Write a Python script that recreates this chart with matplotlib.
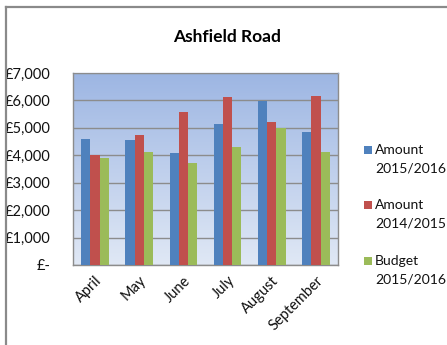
import numpy as np
import matplotlib
matplotlib.use("Agg")
import matplotlib.pyplot as plt
from matplotlib.patches import Rectangle
from matplotlib.lines import Line2D
from matplotlib.colors import LinearSegmentedColormap

plt.rcParams['font.family'] = ['Lato', 'DejaVu Sans']

months = ["April", "May", "June", "July", "August", "September"]
amount_1516 = [4580, 4550, 4080, 5140, 5990, 4860]
amount_1415 = [4000, 4740, 5590, 6110, 5220, 6150]
budget_1516 = [3890, 4130, 3730, 4290, 4980, 4130]
series_labels = ["Amount\n2015/2016", "Amount\n2014/2015", "Budget\n2015/2016"]
colors = ["#4F81BD", "#C0504D", "#9BBB59"]
yticks = [0, 1000, 2000, 3000, 4000, 5000, 6000, 7000]
ytick_labels = ["£-"] + [f"£{v:,}" for v in yticks[1:]]

W, H = 447, 345
fig = plt.figure(figsize=(W / 100, H / 100), dpi=100)
fig.patch.set_facecolor("white")

# outer chart border (left and top edges)
border = dict(transform=fig.transFigure, color="#8a8a8a", linewidth=1.6)
fig.add_artist(Line2D([5.5 / W, 5.5 / W], [0, 1 - 6.5 / H], **border))
fig.add_artist(Line2D([5.5 / W, 1], [1 - 6.5 / H, 1 - 6.5 / H], **border))

ax = fig.add_axes([73 / W, 1 - 265 / H, (338 - 73) / W, (265 - 73) / H])

x = np.arange(len(months))
width = 0.21
for i, (vals, c) in enumerate(zip([amount_1516, amount_1415, budget_1516], colors)):
    ax.bar(x + (i - 1) * width, vals, width=width, color=c, zorder=3, linewidth=0)

ax.set_xlim(-0.5, len(months) - 0.5)
ax.set_ylim(0, 7000)

# gradient plot-area fill
grad = LinearSegmentedColormap.from_list("bg", ["#E0E8F5", "#9DB6E3"])
ax.imshow(np.linspace(0, 1, 256).reshape(-1, 1), cmap=grad, aspect="auto",
          extent=[-0.5, len(months) - 0.5, 0, 7000], origin="lower", zorder=0)

ax.set_yticks(yticks)
ax.set_yticklabels(ytick_labels, fontsize=10.5)
ax.yaxis.grid(True, color="#8c8c8c", linewidth=1, zorder=1)
ax.set_axisbelow(False)
ax.tick_params(axis="y", length=0, pad=16)
ax.tick_params(axis="x", length=0, pad=6)
ax.set_xticks(x)
ax.set_xticklabels(months, rotation=45, ha="right", rotation_mode="anchor", fontsize=10.5)
for lbl in ax.get_yticklabels() + ax.get_xticklabels():
    lbl.set_color("#111111")

for side in ["top", "right", "left", "bottom"]:
    ax.spines[side].set_color("#8c8c8c")
    ax.spines[side].set_linewidth(1)
ax.spines["top"].set_color("#9aaccc")

fig.text(227 / W, 1 - 37 / H, "Ashfield Road", ha="center", va="center",
         fontsize=12.5, fontweight="bold", color="#000000")

# legend
leg_top = [150, 205, 261]
for lbl, c, yt in zip(series_labels, colors, leg_top):
    fig.add_artist(Rectangle((364 / W, 1 - (yt + 4) / H), 8 / W, 8 / H,
                             transform=fig.transFigure, facecolor=c, edgecolor="none"))
    first, second = lbl.split("\n")
    fig.text(375 / W, 1 - yt / H, first, ha="left", va="center", fontsize=10, color="#111111")
    fig.text(375 / W, 1 - (yt + 18) / H, second, ha="left", va="center", fontsize=10, color="#111111")

fig.savefig("out.png", dpi=100)
